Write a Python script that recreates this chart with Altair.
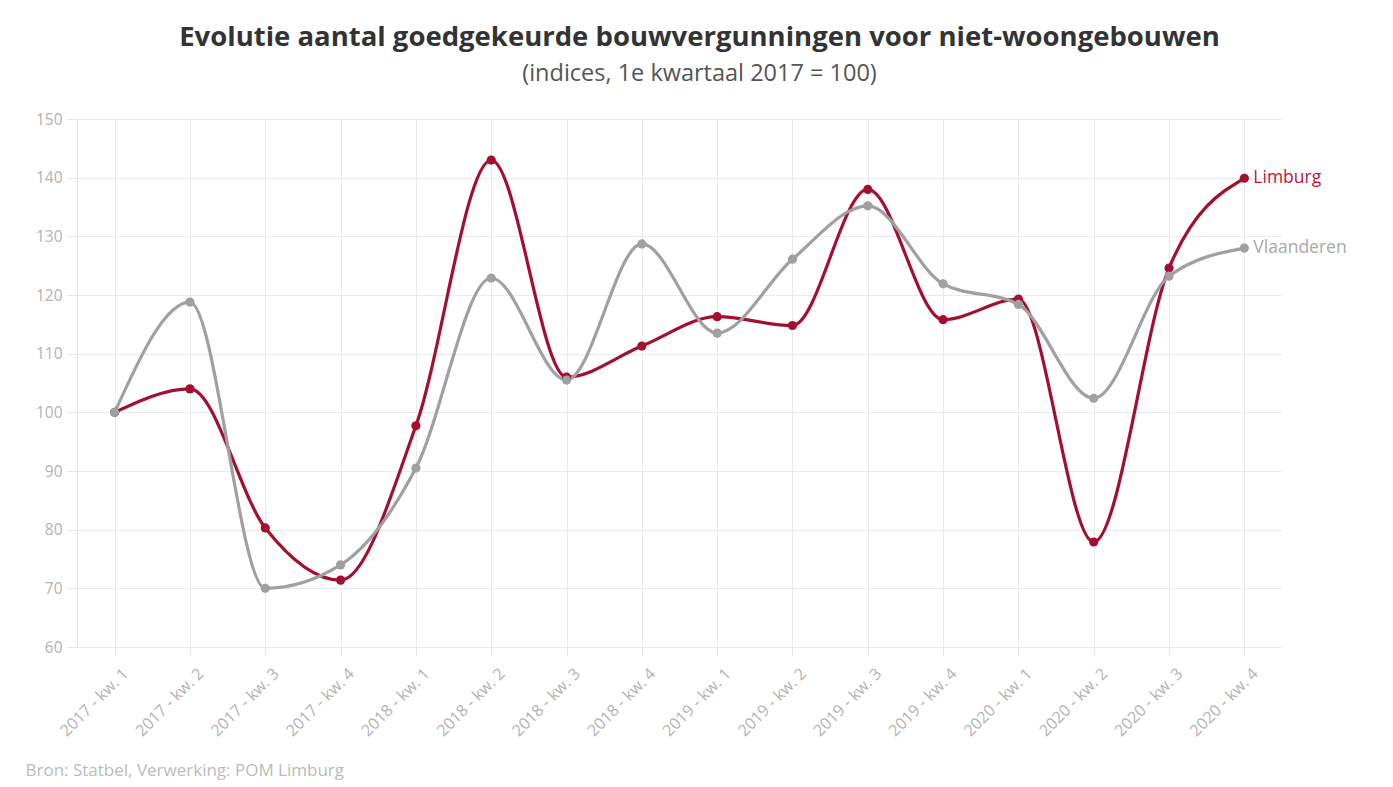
import altair as alt
import pandas as pd

quarters = [
    "2017 - kw. 1", "2017 - kw. 2", "2017 - kw. 3", "2017 - kw. 4",
    "2018 - kw. 1", "2018 - kw. 2", "2018 - kw. 3", "2018 - kw. 4",
    "2019 - kw. 1", "2019 - kw. 2", "2019 - kw. 3", "2019 - kw. 4",
    "2020 - kw. 1", "2020 - kw. 2", "2020 - kw. 3", "2020 - kw. 4",
]
limburg = [100.0, 104.0, 80.3, 71.4, 97.7, 143.0, 106.0, 111.3,
           116.3, 114.8, 138.0, 115.8, 119.3, 77.9, 124.6, 139.9]
vlaanderen = [100.0, 118.8, 70.0, 74.0, 90.5, 122.9, 105.5, 128.7,
              113.5, 126.1, 135.2, 121.9, 118.4, 102.4, 123.2, 128.0]
series_names = ["Limburg", "Vlaanderen"]
series_colors = ["#a50e30", "#a0a0a0"]
label_colors = ["#c0143c", "#a8a8a8"]

rows = []
for name, vals in zip(series_names, [limburg, vlaanderen]):
    for q, v in zip(quarters, vals):
        rows.append({"kwartaal": q, "index": v, "reeks": name})
df = pd.DataFrame(rows)
last = df[df["kwartaal"] == quarters[-1]]

FONT = "Open Sans"
x = alt.X(
    "kwartaal:N", sort=quarters,
    scale=alt.Scale(type="point", padding=0.5),
    axis=alt.Axis(
        title="Bron: Statbel, Verwerking: POM Limburg",
        titleAnchor="start", titleAlign="left", titleBaseline="alphabetic",
        titleX=-52, titleY=128,
        titleColor="#bbbbbb", titleFont=FONT, titleFontSize=17, titleFontWeight="normal",
        labelAngle=-45, labelAlign="right", labelBaseline="top",
        labelColor="#b3b3b3", labelFont=FONT, labelFontSize=16, labelPadding=9,
        labelOffset=5,
        tickColor="#e6e6e6", tickSize=9, domain=False,
        grid=True, gridColor="#ebebeb",
    ),
)
y = alt.Y(
    "index:Q",
    scale=alt.Scale(domain=[60, 150], nice=False, zero=False),
    axis=alt.Axis(
        title=None, values=list(range(60, 151, 10)),
        labelColor="#b3b3b3", labelFont=FONT, labelFontSize=15.5, labelPadding=5,
        tickColor="#e6e6e6", tickSize=10,
        domain=True, domainColor="#e6e6e6",
        grid=True, gridColor="#ebebeb",
    ),
)
color = alt.Color("reeks:N", scale=alt.Scale(domain=series_names, range=series_colors), legend=None)

base = alt.Chart(df).encode(x=x, y=y, color=color)
lines = base.mark_line(interpolate="monotone", strokeWidth=3.2)
points = base.mark_circle(size=85, opacity=1)
labels = alt.Chart(last).mark_text(align="left", dx=9, font=FONT, fontSize=17.5).encode(
    x=alt.X("kwartaal:N", sort=quarters),
    y="index:Q",
    text="reeks:N",
    color=alt.Color("reeks:N", scale=alt.Scale(domain=series_names, range=label_colors), legend=None),
)

chart = alt.layer(lines, points, labels).resolve_scale(color="independent").properties(
    width=1205, height=528,
    padding={"left": 69, "top": 111, "right": 80, "bottom": 145},
    autosize=alt.AutoSizeParams(type="none"),
    background="white",
    title=alt.TitleParams(
        text="Evolutie aantal goedgekeurde bouwvergunningen voor niet-woongebouwen",
        subtitle="(indices, 1e kwartaal 2017 = 100)",
        anchor="middle", dx=20, offset=27,
        font=FONT, fontSize=27.5, fontWeight="bold", color="#333333",
        subtitleFont=FONT, subtitleFontSize=23.5, subtitleColor="#555555", subtitlePadding=10,
    ),
).configure_view(stroke=None)

chart.save("out.html", embed_options={"renderer": "svg", "actions": False})
